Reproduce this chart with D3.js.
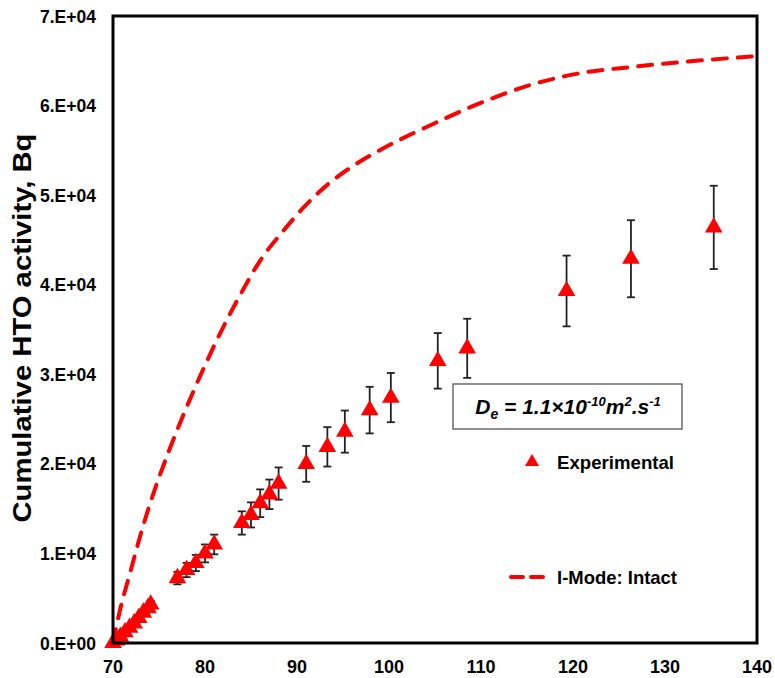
<!DOCTYPE html>
<html><head><meta charset="utf-8">
<script src="https://cdn.jsdelivr.net/npm/d3@7"></script>
<style>body{margin:0;background:#fff}svg{display:block}text{font-family:"Liberation Sans",Arial,sans-serif}</style>
</head><body><svg id="c" width="775" height="678"></svg>
<script>
// Experimental data: time, cumulative activity, error
const expTime = [70,70.4,70.8,71.3,71.8,72.3,72.8,73.3,73.8,74.1,77,78,79,80,81,84,85,86,87,88,91,93.3,95.2,97.9,100.2,105.3,108.5,119.3,126.3,135.3];
const expValue = [0,300,700,1200,1700,2200,2800,3400,3900,4300,7250,8150,8930,10000,11000,13400,14300,15600,16600,17800,20000,21900,23600,26000,27400,31500,32900,39300,42900,46400];
const expError = [0,30,70,120,170,220,280,340,390,430,700,800,900,1000,1100,1300,1400,1550,1650,1800,2000,2200,2350,2600,2750,3100,3300,3950,4300,4650];
// Model curve (I-Mode: Intact)
const modelTime = [70,70.76,71.85,72.83,73.8,74.9,76.2,77.3,78.7,80,82,84,86,88.5,90.65,93.26,96,99,104.5,109.9,115.3,120.8,126.2,131.6,139.8];
const modelValue = [0,3680,7810,11500,14840,18190,21760,24600,28000,31000,35300,39200,42700,46000,48550,51120,53200,55020,57810,60270,62280,63620,64290,64840,65500];
const xTicks = [70,80,90,100,110,120,130,140];
const yTicks = [0,10000,20000,30000,40000,50000,60000,70000];
const yTickLabels = ["0.E+00","1.E+04","2.E+04","3.E+04","4.E+04","5.E+04","6.E+04","7.E+04"];

const svg = d3.select("#c");
const L=113, R=757, T=16, B=643;
const x = d3.scaleLinear().domain([70,140]).range([L,R]);
const y = d3.scaleLinear().domain([0,70000]).range([B,T]);

// model line
const line = d3.line().x((d,i)=>x(modelTime[i])).y((d,i)=>y(modelValue[i])).curve(d3.curveMonotoneX);
svg.append("path").attr("d", line(modelTime)).attr("fill","none").attr("stroke","#ff0000")
  .attr("stroke-width",4).attr("stroke-dasharray","14,11").attr("stroke-linecap","round");

// error bars
const eb = svg.append("g").attr("stroke","#222").attr("stroke-width",1.8);
expTime.forEach((t,i)=>{
  if(expError[i] < 300) return;
  const cx = x(t), y1 = y(expValue[i]+expError[i]), y2 = y(expValue[i]-expError[i]);
  eb.append("line").attr("x1",cx).attr("x2",cx).attr("y1",y1).attr("y2",y2);
  eb.append("line").attr("x1",cx-4).attr("x2",cx+4).attr("y1",y1).attr("y2",y1);
  eb.append("line").attr("x1",cx-4).attr("x2",cx+4).attr("y1",y2).attr("y2",y2);
});

// triangles
const tri = d3.symbol().type(d3.symbolTriangle).size(135);
svg.append("g").selectAll("path").data(expTime).join("path")
  .attr("d", tri).attr("fill","#ff0000")
  .attr("transform",(d,i)=>`translate(${x(d)},${y(expValue[i])})`);

// frame
svg.append("rect").attr("x",L).attr("y",T).attr("width",R-L).attr("height",B-T)
  .attr("fill","none").attr("stroke","#000").attr("stroke-width",3);

// axes labels
svg.append("g").selectAll("text").data(xTicks).join("text")
  .attr("x",d=>x(d)).attr("y",673).attr("text-anchor","middle")
  .attr("font-size",18).attr("font-weight","bold").text(d=>d);
svg.append("g").selectAll("text").data(yTicks).join("text")
  .attr("x",96).attr("y",d=>y(d)+6.5).attr("text-anchor","end")
  .attr("font-size",18).attr("font-weight","bold").attr("textLength",56).attr("lengthAdjust","spacingAndGlyphs")
  .text((d,i)=>yTickLabels[i]);
svg.append("text").attr("transform","translate(31,328) rotate(-90)").attr("text-anchor","middle")
  .attr("font-size",26).attr("font-weight","bold").attr("textLength",389).attr("lengthAdjust","spacingAndGlyphs")
  .text("Cumulative HTO activity, Bq");

// annotation box
svg.append("rect").attr("x",453).attr("y",384).attr("width",229).attr("height",45)
  .attr("fill","#fff").attr("stroke","#555").attr("stroke-width",1.3);
const ann = svg.append("text").attr("x",568).attr("y",414).attr("text-anchor","middle")
  .attr("font-size",21).attr("font-weight","bold").attr("font-style","italic");
ann.append("tspan").text("D");
ann.append("tspan").attr("font-size",14).attr("dy",5).text("e");
ann.append("tspan").attr("dy",-5).text(" = 1.1×10");
ann.append("tspan").attr("font-size",13).attr("dy",-8).text("-10");
ann.append("tspan").attr("dy",8).text("m");
ann.append("tspan").attr("font-size",13).attr("dy",-8).text("2");
ann.append("tspan").attr("dy",8).text(".s");
ann.append("tspan").attr("font-size",13).attr("dy",-8).text("-1");

// legend
svg.append("path").attr("d",d3.symbol().type(d3.symbolTriangle).size(85)())
  .attr("fill","#ff0000").attr("transform","translate(532,462)");
svg.append("text").attr("x",557).attr("y",469).attr("font-size",18.5).attr("font-weight","bold")
  .attr("textLength",117).attr("lengthAdjust","spacingAndGlyphs").text("Experimental");
svg.append("line").attr("x1",511).attr("x2",546).attr("y1",577).attr("y2",577)
  .attr("stroke","#ff0000").attr("stroke-width",4).attr("stroke-dasharray","12,8").attr("stroke-linecap","round");
svg.append("text").attr("x",557).attr("y",584).attr("font-size",18.5).attr("font-weight","bold")
  .attr("textLength",120).attr("lengthAdjust","spacingAndGlyphs").text("I-Mode: Intact");
</script></body></html>
